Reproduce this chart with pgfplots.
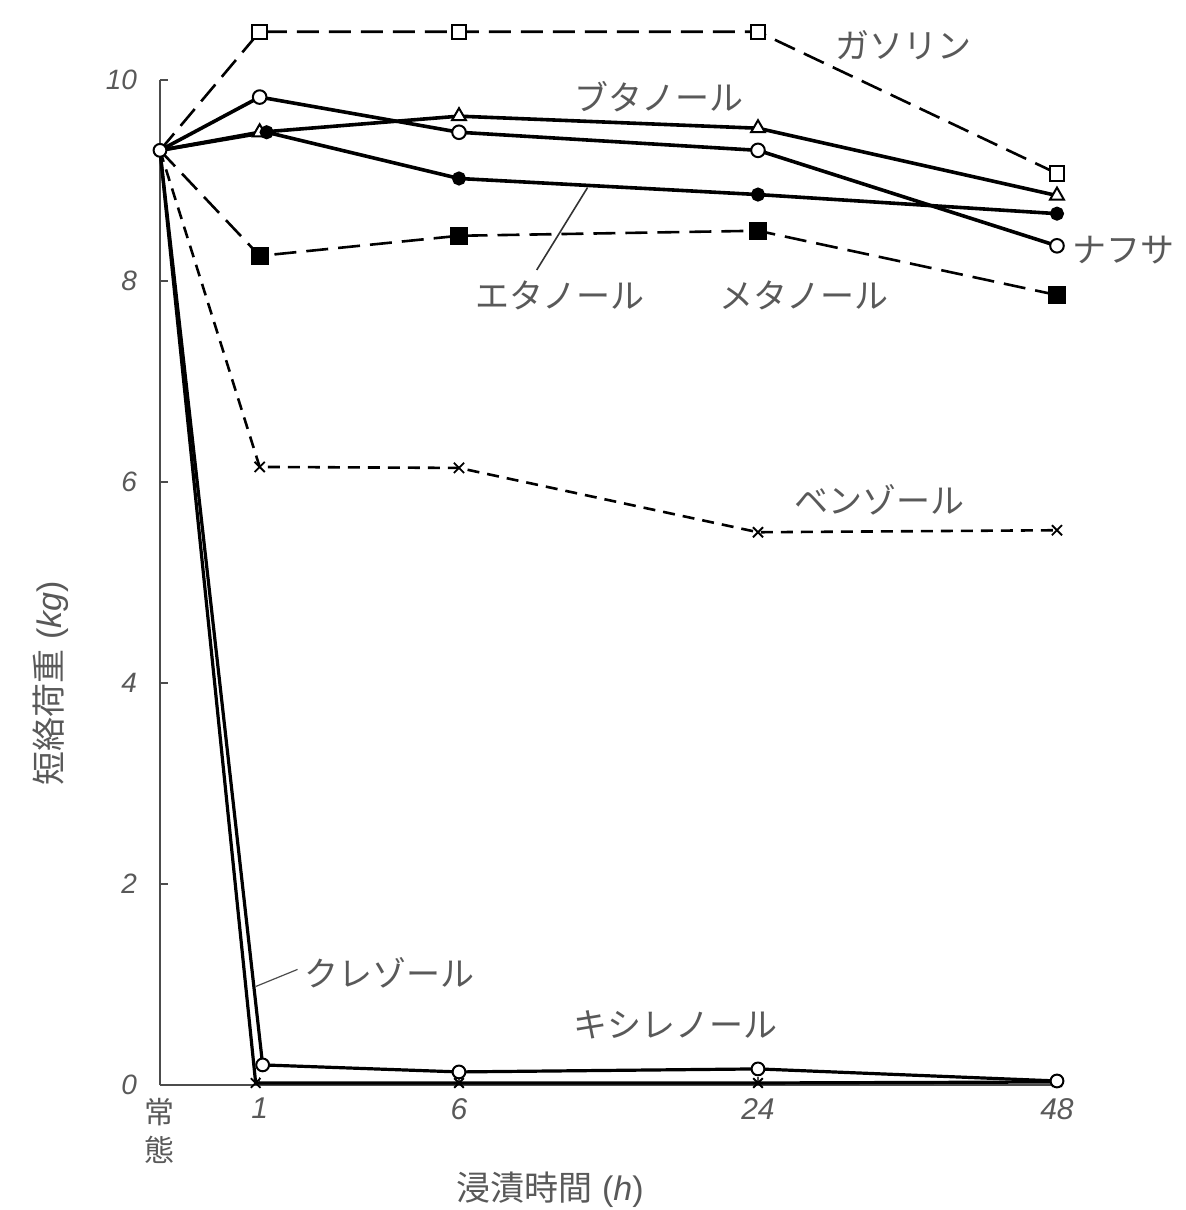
\documentclass[border=0pt]{standalone}
\usepackage{pgfplots}
\pgfplotsset{compat=1.18}
\usepackage{fontspec}
\setmainfont{Liberation Sans}
\newfontfamily\cjk{Noto Sans CJK JP}
\definecolor{txt}{gray}{0.35}
\begin{document}
\begin{tikzpicture}
\path[use as bounding box] (-80pt,-62.5pt) rectangle (512.5pt,542.5pt);
\begin{axis}[
  at={(0pt,0pt)}, anchor=south west,
  scale only axis, width=448.5pt, height=502.5pt,
  xmin=0, xmax=9, ymin=0, ymax=10,
  axis lines=left, axis line style={-, line width=0.8pt, black!70},
  clip=false,
  xtick={0,1,3,6,9},
  xticklabels={{\upshape\cjk 常\\\upshape\cjk 態},1,6,24,48},
  ytick={0,2,4,6,8,10},
  tick align=inside, major tick length=4pt,
  tick style={black!70, line width=0.6pt},
  /pgf/number format/assume math mode=true,
  ticklabel style={font=\itshape\fontsize{14}{14}\selectfont, text=txt},
  xticklabel style={align=center, font=\itshape\fontsize{15}{19}\selectfont, yshift=-3pt},
  yticklabel style={xshift=-8pt},
  xlabel={{\cjk 浸漬時間} (\textit{h})},
  ylabel={{\cjk 短絡荷重} (\textit{kg})},
  label style={font=\fontsize{17}{17}\selectfont, text=txt},
  xlabel style={at={(axis description cs:0.435,-0.1045)}, anchor=center},
  ylabel style={at={(axis description cs:-0.122,0.40)}, anchor=center},
]
% ガソリン
\addplot[black, line width=1.3pt, dash pattern=on 11pt off 5pt, mark=square*, mark size=3.6pt, mark indices={2,3,4,5}, mark options={solid, fill=white, line width=1pt}]
  coordinates {(0,9.3) (1,10.48) (3,10.48) (6,10.48) (9,9.07)};
% ブタノール
\addplot[black, line width=1.8pt, mark=triangle*, mark size=4pt, mark indices={2,3,4,5}, mark options={solid, fill=white, line width=1pt}]
  coordinates {(0,9.3) (1,9.48) (3,9.64) (6,9.52) (9,8.85)};
% エタノール
\addplot[black, line width=1.8pt, mark=*, mark size=2.6pt, mark indices={2,3,4,5}, mark options={solid, fill=black}]
  coordinates {(0,9.3) (1.07,9.48) (3,9.02) (6,8.86) (9,8.67)};
% ナフサ
\addplot[black, line width=1.8pt, mark=*, mark size=3.4pt, mark indices={2,3,4,5}, mark options={solid, fill=white, line width=1pt}]
  coordinates {(0,9.3) (1,9.83) (3,9.48) (6,9.3) (9,8.35)};
% メタノール
\addplot[black, line width=1.3pt, dash pattern=on 11pt off 5pt, mark=square*, mark size=3.8pt, mark indices={2,3,4,5}, mark options={solid, fill=black}]
  coordinates {(0,9.3) (1,8.25) (3,8.45) (6,8.5) (9,7.86)};
% ベンゾール
\addplot[black, line width=1.3pt, dash pattern=on 6pt off 4pt, mark=x, mark size=3.6pt, mark indices={2,3,4,5}, mark options={solid, line width=0.9pt}]
  coordinates {(0,9.3) (1,6.15) (3,6.14) (6,5.5) (9,5.52)};
% クレゾール
\addplot[black, line width=1.6pt, mark=x, mark size=3.4pt, mark indices={2,3,4,5}, mark options={solid, line width=0.9pt}]
  coordinates {(0,9.3) (0.96,0.02) (3,0.02) (6,0.02) (9,0.03)};
% キシレノール
\addplot[black, line width=1.6pt, mark=*, mark size=3.2pt, mark options={solid, fill=white, line width=1pt}]
  coordinates {(0,9.3) (1.03,0.2) (3,0.13) (6,0.16) (9,0.04)};
% labels
\begin{scope}[every node/.style={font=\cjk\fontsize{17}{17}\selectfont, text=txt}]
\node at (axis cs:7.46,10.35) {ガソリン};
\node at (axis cs:5.01,9.83) {ブタノール};
\node[anchor=west] at (axis cs:9.08,8.31) {ナフサ};
\node at (axis cs:4.01,7.86) {エタノール};
\node at (axis cs:6.46,7.86) {メタノール};
\node at (axis cs:7.22,5.82) {ベンゾール};
\node[anchor=west] at (axis cs:1.38,1.12) {クレゾール};
\node at (axis cs:5.17,0.6) {キシレノール};
\end{scope}
\draw[black!80, line width=0.8pt] (axis cs:3.78,8.11) -- (axis cs:4.29,8.93);
\draw[black!70, line width=0.6pt] (axis cs:0.96,0.98) -- (axis cs:1.38,1.15);
\end{axis}
\end{tikzpicture}
\end{document}
